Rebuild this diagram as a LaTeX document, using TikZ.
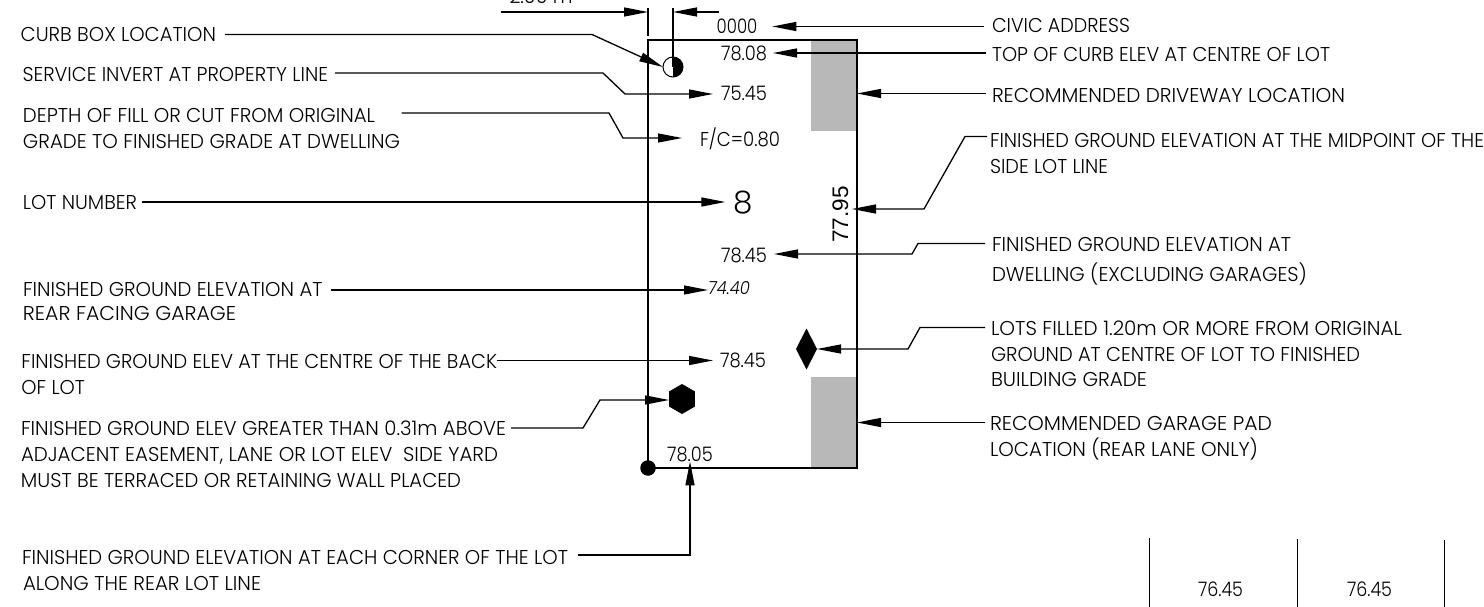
\documentclass[tikz,border=0pt]{standalone}
\usepackage{fontspec}
\usepackage{graphicx}
\setmainfont{Poppins Light}
\newfontfamily\arialish{Liberation Sans}
\usetikzlibrary{arrows.meta,shapes.geometric}
\newcommand\fw[2]{\resizebox{#1pt}{\height}{#2}}
\tikzset{
 lbl/.style={anchor=base west,inner sep=0pt,outer sep=0pt,font=\fontsize{20}{23}\selectfont,text=black},
 val/.style={anchor=base,inner sep=0pt,outer sep=0pt,font=\fontsize{20}{23}\selectfont,text=black},
 leader/.style={draw=black,line width=1.3pt,line join=miter,-{Triangle[length=24pt,width=9pt]}},
 plain/.style={draw=black,line width=1.3pt},
 pad/.style={fill=black!28,draw=none,inner sep=0pt,outer sep=0pt},
}
\begin{document}
\begin{tikzpicture}[x=1pt,y=-1pt]
\useasboundingbox (0,0) rectangle (1484,607);
% pads
\node[pad,anchor=north west,minimum width=46pt,minimum height=91.5pt] (pad1) at (811,40) {};
\node[pad,anchor=north west,minimum width=46pt,minimum height=91pt] (pad2) at (811,377) {};
% lot
\node[draw=black,line width=2.2pt,anchor=north west,inner sep=0pt,outer sep=0pt,minimum width=209pt,minimum height=428pt] (lot) at (648,40) {};
% symbols
\node[circle,draw=black,line width=1pt,fill=white,minimum size=20pt,inner sep=0pt,outer sep=0pt] (curb) at (673,67) {};
\fill (673,57) arc[start angle=90,end angle=-90,radius=10pt] -- cycle;
\node[fill=black,circle,minimum size=15.5pt,inner sep=0pt] (corner) at (648,468) {};
\node[fill=black,regular polygon,regular polygon sides=6,shape border rotate=30,minimum size=30pt,inner sep=0pt,outer sep=0pt] (hex) at (682,399) {};
\node[fill=black,diamond,minimum width=21pt,minimum height=41pt,inner sep=0pt,outer sep=0pt] (dia) at (806.5,349) {};
% values
\node[val] (addr) at (737,34) {\fw{40.6}{0000}};
\node[val] (v1) at (744,61) {\fw{46}{78.08}};
\node[val] (v2) at (744,101) {\fw{46}{75.45}};
\node[val] (v3) at (740,147) {\fw{80}{F/C=0.80}};
\node[val,font=\fontsize{31}{31}\selectfont] (lotno) at (743,214) {8};
\node[val,rotate=90,font=\arialish\fontsize{22.5}{24}\selectfont] (v4) at (848,214.5) {77.95};
\node[val] (v5) at (744,262) {\fw{46}{78.45}};
\node[val,font=\itshape\fontsize{18}{20}\selectfont] (v6) at (729,294) {\fw{42}{74.40}};
\node[val] (v7) at (743,367.5) {\fw{46}{78.45}};
\node[val] (v8) at (690,461) {\fw{45.7}{78.05}};
\node[val] (g1) at (1220.5,596) {\fw{45}{76.45}};
\node[val] (g2) at (1369.5,596) {\fw{45}{76.45}};
\node[val] (dim) at (541,4) {\fw{63}{2.00 m}};
% left labels
\node[lbl] (l1) at (20.7,41.5) {\fw{195.3}{CURB BOX LOCATION}};
\node[lbl] (l2) at (22.5,81.5) {\fw{305.5}{SERVICE INVERT AT PROPERTY LINE}};
\node[lbl] (l3) at (23,122.5) {\fw{352}{DEPTH OF FILL OR CUT FROM ORIGINAL}};
\node[lbl] (l3b) at (23,149) {\fw{377}{GRADE TO FINISHED GRADE AT DWELLING}};
\node[lbl] (l4) at (23,210) {\fw{114}{LOT NUMBER}};
\node[lbl] (l5) at (23,296.7) {\fw{299.5}{FINISHED GROUND ELEVATION AT}};
\node[lbl] (l5b) at (23,320) {\fw{213}{REAR FACING GARAGE}};
\node[lbl] (l6) at (21.5,368) {\fw{475.5}{FINISHED GROUND ELEV AT THE CENTRE OF THE BACK}};
\node[lbl] (l6b) at (21.5,394) {\fw{63.5}{OF LOT}};
\node[lbl] (l7) at (21,435) {\fw{485}{FINISHED GROUND ELEV GREATER THAN 0.31m ABOVE}};
\node[lbl] (l7b) at (21,461) {\fw{477}{ADJACENT EASEMENT, LANE OR LOT ELEV\ \ SIDE YARD}};
\node[lbl] (l7c) at (21,487) {\fw{440}{MUST BE TERRACED OR RETAINING WALL PLACED}};
\node[lbl] (l8) at (22,564) {\fw{546}{FINISHED GROUND ELEVATION AT EACH CORNER OF THE LOT}};
\node[lbl] (l8b) at (23,590) {\fw{238}{ALONG THE REAR LOT LINE}};
% right labels
\node[lbl] (r1) at (992,32.5) {\fw{138}{CIVIC ADDRESS}};
\node[lbl] (r2) at (992,61.5) {\fw{338}{TOP OF CURB ELEV AT CENTRE OF LOT}};
\node[lbl] (r3) at (992,103) {\fw{353}{RECOMMENDED DRIVEWAY LOCATION}};
\node[lbl] (r4) at (990,148) {\fw{494}{FINISHED GROUND ELEVATION AT THE MIDPOINT OF THE}};
\node[lbl] (r4b) at (990,173.5) {\fw{118}{SIDE LOT LINE}};
\node[lbl] (r5) at (992,251.5) {\fw{299}{FINISHED GROUND ELEVATION AT}};
\node[lbl] (r5b) at (992,281) {\fw{315}{DWELLING (EXCLUDING GARAGES)}};
\node[lbl] (r6) at (991,335.5) {\fw{411}{LOTS FILLED 1.20m OR MORE FROM ORIGINAL}};
\node[lbl] (r6b) at (991,361) {\fw{369}{GROUND AT CENTRE OF LOT TO FINISHED}};
\node[lbl] (r6c) at (991,386.7) {\fw{156}{BUILDING GRADE}};
\node[lbl] (r7) at (990,430.5) {\fw{282}{RECOMMENDED GARAGE PAD}};
\node[lbl] (r7b) at (990,456) {\fw{268}{LOCATION (REAR LANE ONLY)}};
% connectors
\draw[leader,shorten <=9pt] (l1.east |- 0,34.5) -- (592,34.5) -- (curb.west);
\draw[leader,shorten <=7pt,shorten >=8pt] (l2.east |- 0,73) -- (603,73) -- (625,94) -- (v2.west |- 0,94);
\draw[leader,shorten <=26.7pt,shorten >=18pt] (l3.east |- 0,113) -- (609,113) -- (623,138) -- (v3.west |- 0,138);
\draw[leader,shorten <=4.6pt,shorten >=8pt] (l4.east |- 0,202) -- (lotno.west |- 0,202);
\draw[leader,shorten <=8.5pt] (l5.east |- 0,290) -- (v6.west |- 0,290);
\draw[leader,shorten >=7pt] (l6.east |- 0,360.5) -- (v7.west |- 0,360.5);
\draw[leader,shorten <=5pt] (l7.east |- 0,428) -- (583,428) -- (600,400) -- (hex.west |- 0,400);
\draw[leader,shorten <=10pt] (l8.east |- 0,555) -- (690,555) -- (v8.south);
\draw[leader,shorten <=8pt,shorten >=15pt] (r1.west |- 0,26.5) -- (addr.east |- 0,26.5);
\draw[leader,shorten <=6pt,shorten >=6pt] (r2.west |- 0,53) -- (v1.east |- 0,53);
\draw[leader,shorten <=6pt] (r3.west |- 0,93.5) -- (lot.east |- 0,93.5);
\coordinate (r4tip) at (852,209);
\draw[leader,shorten <=3pt] (r4.west |- 0,136.5) -- (965,136.5) -- (924,209) -- (r4tip);
\draw[leader,shorten <=7pt,shorten >=7pt] (r5.west |- 0,243.5) -- (918,243.5) -- (912,254) -- (v5.east |- 0,254);
\draw[leader,shorten <=6pt] (r6.west |- 0,327.5) -- (920,327.5) -- (908,349) -- (dia.east);
\draw[leader,shorten <=5pt] (r7.west |- 0,422.5) -- (lot.east |- 0,422.5);
% dimension
\coordinate (dimA) at (648,8);
\coordinate (dimB) at (673,8);
\coordinate (dimL) at (501,12);
\coordinate (dimR) at (719,12);
\draw[plain] (dimA) -- (lot.north west |- 0,36);
\draw[plain] (dimB) -- (curb.center);
\draw[leader] (dimL) -- (dimA |- dimL);
\draw[leader] (dimR) -- (dimB |- dimR);
% grid
\coordinate (t1) at (1149,538); \coordinate (b1) at (1149,607);
\coordinate (t2) at (1297,539); \coordinate (b2) at (1297,607);
\coordinate (t3) at (1444,540); \coordinate (b3) at (1444,607);
\draw[line width=1pt] (t1)--(b1) (t2)--(b2) (t3)--(b3);
\end{tikzpicture}
\end{document}
